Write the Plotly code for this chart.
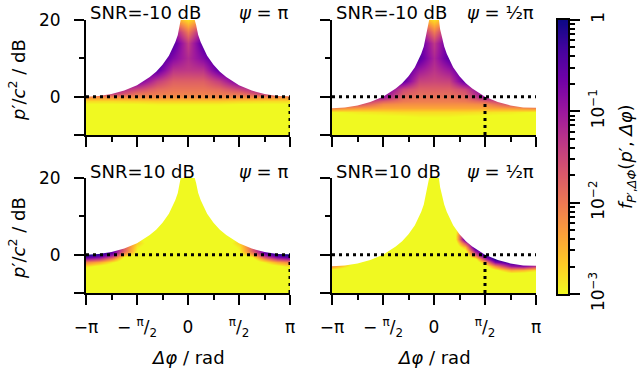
import numpy as np
import plotly.graph_objects as go

# Δφ in units of π, power p'/c² in dB, colour = log10 of the joint density
SNR_TEXT = ["SNR=-10 dB", "SNR=-10 dB", "SNR=10 dB", "SNR=10 dB"]
PSI_TEXT = ["<i>ψ</i> = π", "<i>ψ</i> = ½π", "<i>ψ</i> = π", "<i>ψ</i> = ½π"]
PSI_PI = [1.0, 0.5, 1.0, 0.5]
REF_DB = 0

# upper edge of the support
BOUND_X = [-1, -0.875, -0.75, -0.625, -0.5, -0.4375, -0.375, -0.3125, -0.25, -0.1875,
           -0.15, -0.125, -0.1, -0.08, -0.06, -0.04, 0, 0.04, 0.06, 0.08, 0.1, 0.125,
           0.15, 0.1875, 0.25, 0.3125, 0.375, 0.4375, 0.5, 0.625, 0.75, 0.875, 1]
BOUND_PSI_PI = [0.0, 0.2, 0.7, 1.6, 3.0, 4.0, 5.1, 6.5, 8.3, 10.7, 12.7, 14.2, 16.1, 18.6,
                20.6, 24.0, 30.0, 24.0, 20.6, 18.6, 16.1, 14.2, 12.7, 10.7, 8.3, 6.5, 5.1,
                4.0, 3.0, 1.6, 0.7, 0.2, 0.0]
BOUND_PSI_HALF = [-3.0, -2.8, -2.3, -1.4, 0.0, 1.0, 2.1, 3.5, 5.3, 7.7, 9.6, 11.2, 13.1,
                  15.4, 17.6, 21.0, 30.0, 21.0, 17.6, 15.4, 13.1, 11.2, 9.6, 7.7, 5.3, 3.5,
                  2.1, 1.0, 0.0, -1.4, -2.3, -2.8, -3.0]

# SNR=-10 dB, psi=pi
TL_X = [-1, -0.75, -0.5, -0.3, -0.15, 0, 0.15, 0.3, 0.5, 0.75, 1]
TL_Y = [-10, -4, -2, -1, 0, 1, 2, 4, 7, 10, 14, 17, 20]
TL_Z = [
    [-3.5, -3.5, -3.5, -3.5, -3.5, -3.5, -3.5, -3.5, -3.5, -3.5, -3.5],
    [-3.2, -3.2, -3.2, -3.2, -3.2, -3.2, -3.2, -3.2, -3.2, -3.2, -3.2],
    [-3.0, -3.0, -3.0, -2.95, -2.95, -2.95, -2.95, -2.95, -3.0, -3.0, -3.0],
    [-2.8, -2.8, -2.75, -2.7, -2.7, -2.7, -2.7, -2.7, -2.75, -2.8, -2.8],
    [-2.2, -2.2, -2.2, -2.15, -2.2, -2.2, -2.2, -2.15, -2.2, -2.2, -2.2],
    [-1.5, -1.3, -1.9, -2.0, -2.05, -2.05, -2.05, -2.0, -1.9, -1.3, -1.5],
    [-1.2, -1.0, -1.5, -1.85, -1.95, -1.95, -1.95, -1.85, -1.5, -1.0, -1.2],
    [-1.0, -0.8, -0.6, -1.4, -1.75, -1.75, -1.75, -1.4, -0.6, -0.8, -1.0],
    [-1.0, -0.8, -0.4, -0.5, -1.3, -1.35, -1.3, -0.5, -0.4, -0.8, -1.0],
    [-1.0, -0.8, -0.4, -0.2, -0.8, -1.2, -0.8, -0.2, -0.4, -0.8, -1.0],
    [-1.0, -0.8, -0.4, -0.2, -0.4, -1.4, -0.4, -0.2, -0.4, -0.8, -1.0],
    [-1.0, -0.8, -0.4, -0.3, -0.9, -2.0, -0.9, -0.3, -0.4, -0.8, -1.0],
    [-1.0, -0.8, -0.4, -0.5, -2.2, -2.8, -2.2, -0.5, -0.4, -0.8, -1.0],
]

# SNR=-10 dB, psi=pi/2
TR_X = [-1, -0.75, -0.5, -0.3, -0.15, 0, 0.15, 0.3, 0.5, 0.75, 1]
TR_Y = [-10, -6, -4, -3, -2, -1, 0, 2, 4, 7, 10, 14, 17, 20]
TR_Z = [
    [-3.5, -3.5, -3.5, -3.5, -3.5, -3.5, -3.5, -3.5, -3.5, -3.5, -3.5],
    [-3.2, -3.2, -3.2, -3.2, -3.1, -3.1, -3.1, -3.2, -3.2, -3.2, -3.2],
    [-3.0, -2.9, -2.85, -2.8, -2.8, -2.8, -2.8, -2.8, -2.85, -2.9, -3.0],
    [-2.1, -2.3, -2.4, -2.4, -2.4, -2.4, -2.4, -2.4, -2.4, -2.3, -2.1],
    [-1.8, -1.6, -2.15, -2.2, -2.2, -2.2, -2.2, -2.2, -2.15, -1.6, -1.8],
    [-1.5, -1.2, -1.75, -2.0, -2.05, -2.05, -2.05, -2.0, -1.75, -1.2, -1.5],
    [-1.2, -1.0, -1.0, -1.85, -1.95, -1.95, -1.95, -1.85, -1.0, -1.0, -1.2],
    [-1.0, -0.8, -0.5, -1.5, -1.75, -1.75, -1.75, -1.5, -0.5, -0.8, -1.0],
    [-1.0, -0.8, -0.4, -0.5, -1.45, -1.5, -1.45, -0.5, -0.4, -0.8, -1.0],
    [-1.0, -0.8, -0.4, -0.3, -1.0, -1.3, -1.0, -0.3, -0.4, -0.8, -1.0],
    [-1.0, -0.8, -0.4, -0.3, -0.45, -1.15, -0.45, -0.3, -0.4, -0.8, -1.0],
    [-1.0, -0.8, -0.4, -0.3, -0.4, -1.35, -0.4, -0.3, -0.4, -0.8, -1.0],
    [-1.0, -0.8, -0.4, -0.4, -0.9, -2.0, -0.9, -0.4, -0.4, -0.8, -1.0],
    [-1.0, -0.8, -0.4, -0.5, -2.2, -2.8, -2.2, -0.5, -0.4, -0.8, -1.0],
]

# SNR=10 dB, psi=pi
BL_X = [-1, -0.875, -0.75, -0.625, -0.5, -0.3, 0, 0.3, 0.5, 0.625, 0.75, 0.875, 1]
BL_Y = [-10, -4, -3, -2, -1, -0.5, 0, 0.5, 1, 2, 3, 5, 20]
BL_Z = [
    [-3.5, -3.5, -3.5, -3.5, -3.5, -3.5, -3.5, -3.5, -3.5, -3.5, -3.5, -3.5, -3.5],
    [-3.3, -3.4, -3.5, -3.5, -3.5, -3.5, -3.5, -3.5, -3.5, -3.5, -3.5, -3.4, -3.3],
    [-2.8, -3.1, -3.3, -3.4, -3.5, -3.5, -3.5, -3.5, -3.5, -3.4, -3.3, -3.1, -2.8],
    [-2.1, -2.4, -2.9, -3.3, -3.5, -3.5, -3.5, -3.5, -3.5, -3.3, -2.9, -2.4, -2.1],
    [-1.1, -1.4, -2.2, -3.2, -3.5, -3.5, -3.5, -3.5, -3.5, -3.2, -2.2, -1.4, -1.1],
    [-0.5, -0.8, -1.6, -3.0, -3.4, -3.5, -3.5, -3.5, -3.4, -3.0, -1.6, -0.8, -0.5],
    [-0.1, -0.3, -1.0, -2.5, -3.2, -3.5, -3.5, -3.5, -3.2, -2.5, -1.0, -0.3, -0.1],
    [0.0, -0.1, -0.6, -2.1, -3.1, -3.5, -3.5, -3.5, -3.1, -2.1, -0.6, -0.1, 0.0],
    [0.0, 0.0, -0.5, -1.8, -3.0, -3.5, -3.5, -3.5, -3.0, -1.8, -0.5, 0.0, 0.0],
    [0.0, 0.0, -0.5, -1.7, -2.9, -3.5, -3.5, -3.5, -2.9, -1.7, -0.5, 0.0, 0.0],
    [0.0, 0.0, -0.5, -1.8, -2.7, -3.5, -3.5, -3.5, -2.7, -1.8, -0.5, 0.0, 0.0],
    [0.0, 0.0, -0.5, -2.0, -2.9, -3.5, -3.5, -3.5, -2.9, -2.0, -0.5, 0.0, 0.0],
    [-3.5, -3.5, -3.5, -3.5, -3.5, -3.5, -3.5, -3.5, -3.5, -3.5, -3.5, -3.5, -3.5],
]

# SNR=10 dB, psi=pi/2
BR_X = [-1, -0.75, -0.5, -0.25, 0, 0.2, 0.3, 0.4, 0.5, 0.6, 0.75, 0.875, 1]
BR_Y = [-10, -6, -5, -4, -3, -2, -1, 0, 1, 2, 3, 4, 5, 6, 8, 20]
BR_Z = [
    [-3.5, -3.5, -3.5, -3.5, -3.5, -3.5, -3.5, -3.5, -3.5, -3.5, -3.5, -3.5, -3.5],
    [-3.5, -3.5, -3.5, -3.5, -3.5, -3.5, -3.5, -3.5, -3.5, -3.5, -3.5, -3.5, -3.5],
    [-3.5, -3.5, -3.5, -3.5, -3.5, -3.5, -3.5, -3.5, -3.5, -3.5, -3.2, -3.3, -3.4],
    [-3.2, -3.5, -3.5, -3.5, -3.5, -3.5, -3.5, -3.5, -3.5, -3.1, -2.4, -2.5, -2.8],
    [-2.2, -3.4, -3.5, -3.5, -3.5, -3.5, -3.5, -3.5, -3.2, -2.2, -1.0, -0.8, -1.3],
    [-2.2, -3.0, -3.5, -3.5, -3.5, -3.5, -3.5, -3.4, -2.4, -0.8, -0.2, -0.6, -1.2],
    [-2.2, -3.0, -3.5, -3.5, -3.5, -3.5, -3.5, -3.2, -1.3, -0.1, -0.2, -0.6, -1.2],
    [-2.2, -3.0, -3.4, -3.5, -3.5, -3.5, -3.4, -1.9, -0.1, 0.0, -0.2, -0.6, -1.2],
    [-2.2, -3.0, -3.4, -3.5, -3.5, -3.5, -3.2, -1.0, 0.0, 0.0, -0.2, -0.6, -1.2],
    [-2.2, -3.0, -3.4, -3.5, -3.5, -3.5, -2.6, -0.1, 0.0, 0.0, -0.2, -0.6, -1.2],
    [-2.2, -3.0, -3.4, -3.5, -3.5, -3.5, -1.6, 0.0, 0.0, 0.0, -0.2, -0.6, -1.2],
    [-2.2, -3.0, -3.4, -3.5, -3.5, -3.4, -0.3, 0.0, 0.0, 0.0, -0.2, -0.6, -1.2],
    [-2.2, -3.0, -3.4, -3.5, -3.5, -3.4, -0.3, 0.0, 0.0, 0.0, -0.2, -0.6, -1.2],
    [-2.2, -3.0, -3.4, -3.5, -3.5, -3.4, -0.8, -0.3, 0.0, 0.0, -0.2, -0.6, -1.2],
    [-2.2, -3.0, -3.4, -3.5, -3.5, -3.5, -2.0, -1.5, -0.5, -0.5, -0.5, -0.6, -1.2],
    [-3.5, -3.5, -3.5, -3.5, -3.5, -3.5, -3.5, -3.5, -3.5, -3.5, -3.5, -3.5, -3.5],
]

X_RANGE = [-1, 1]
Y_RANGE = [-10, 20]
X_TICKS = [-1, -0.5, 0, 0.5, 1]
X_TICK_TEXT = ["−π", "− <sup>π</sup>/<sub>2</sub>", "0", "<sup>π</sup>/<sub>2</sub>", "π"]
X_MINOR = [-0.75, -0.25, 0.25, 0.75]
Y_TICKS = [-10, 0, 20]
Y_TICK_TEXT = ["", "0", "20"]
Y_MINOR = [10]
CB_TICKS = [-3, -2, -1, 0]
CB_TICK_TEXT = ["10<sup>−3</sup>", "10<sup>−2</sup>", "10<sup>−1</sup>", "1"]

W, H = 640, 368
FONT = "DejaVu Sans"

# panel boxes in pixels: left, right, top, bottom
BOXES = [(86, 290, 20, 135), (332, 536, 20, 135), (86, 290, 178, 293), (332, 536, 178, 293)]
CB_BOX = (558, 568, 20, 294)

PANELS = [
    (TL_X, TL_Y, TL_Z, BOUND_PSI_PI),
    (TR_X, TR_Y, TR_Z, BOUND_PSI_HALF),
    (BL_X, BL_Y, BL_Z, BOUND_PSI_PI),
    (BR_X, BR_Y, BR_Z, BOUND_PSI_HALF),
]


def xdom(l, r):
    return [l / W, r / W]


def ydom(t, b):
    return [1 - b / H, 1 - t / H]


fig = go.Figure()
layout = dict(
    width=W, height=H, margin=dict(l=0, r=0, t=0, b=0, autoexpand=False),
    paper_bgcolor="white", plot_bgcolor="white", showlegend=False,
    font=dict(family=FONT, size=17, color="black"),
    coloraxis=dict(colorscale="Plasma", reversescale=True, cmin=-3, cmax=0, showscale=False),
)

axis_common = dict(
    showline=True, linecolor="black", linewidth=2, ticks="outside", ticklen=10,
    tickwidth=2, tickcolor="black", showgrid=False, zeroline=False, tickmode="array",
    automargin=False,
)

annotations = []
for i, (px, py, pz, bnd) in enumerate(PANELS):
    n = "" if i == 0 else str(i + 1)
    xa, ya = "x" + n, "y" + n
    fig.add_trace(go.Heatmap(x=px, y=py, z=pz, zsmooth="best", coloraxis="coloraxis",
                             xaxis=xa, yaxis=ya, hoverinfo="skip"))
    # blank out everything above the support edge (padded past the axis ends)
    top = Y_RANGE[1] + 2
    fig.add_trace(go.Scatter(
        x=[X_RANGE[0] - 0.1, X_RANGE[0] - 0.1] + BOUND_X + [X_RANGE[1] + 0.1, X_RANGE[1] + 0.1],
        y=[top, bnd[0]] + bnd + [bnd[-1], top],
        mode="lines", fill="toself", fillcolor="white", line=dict(width=0),
        xaxis=xa, yaxis=ya, hoverinfo="skip"))
    dot = dict(color="black", width=3, dash="3px,4px")
    fig.add_trace(go.Scatter(x=X_RANGE, y=[REF_DB, REF_DB], mode="lines", line=dot,
                             xaxis=xa, yaxis=ya, hoverinfo="skip"))
    fig.add_trace(go.Scatter(x=[PSI_PI[i], PSI_PI[i]], y=[Y_RANGE[0], REF_DB], mode="lines",
                             line=dot, xaxis=xa, yaxis=ya, hoverinfo="skip"))

    l, r, t, b = BOXES[i]
    bottom = i >= 2
    left = i % 2 == 0
    layout["xaxis" + n] = dict(
        axis_common, domain=xdom(l, r), range=X_RANGE, anchor=ya,
        tickvals=X_TICKS, ticktext=X_TICK_TEXT, showticklabels=bottom,
        ticklabelstandoff=8,
        minor=dict(tickmode="array", tickvals=X_MINOR, ticks="outside", ticklen=5,
                   tickwidth=1.5, tickcolor="black"),
    )
    layout["yaxis" + n] = dict(
        axis_common, domain=ydom(t, b), range=Y_RANGE, anchor=xa,
        tickvals=Y_TICKS, ticktext=Y_TICK_TEXT, showticklabels=left,
        ticklabelstandoff=10,
        minor=dict(tickmode="array", tickvals=Y_MINOR, ticks="outside", ticklen=5,
                   tickwidth=1.5, tickcolor="black"),
    )

    annotations.append(dict(text=SNR_TEXT[i], x=(l + 2) / W, y=1 - (t - 7) / H,
                            xref="paper", yref="paper", xanchor="left", yanchor="middle",
                            showarrow=False, font=dict(size=18)))
    annotations.append(dict(text=PSI_TEXT[i], x=r / W, y=1 - (t - 7) / H,
                            xref="paper", yref="paper", xanchor="right", yanchor="middle",
                            showarrow=False, font=dict(size=18)))
    if left:
        annotations.append(dict(text="<i>p</i>′/<i>c</i><sup>2</sup> / dB", x=17 / W,
                                y=1 - (t + 60) / H, xref="paper", yref="paper",
                                xanchor="center", yanchor="middle", textangle=-90,
                                showarrow=False, font=dict(size=18)))
    if bottom:
        annotations.append(dict(text="<i>Δφ</i> / rad", x=(l + r) / 2 / W, y=1 - 357 / H,
                                xref="paper", yref="paper", xanchor="center",
                                yanchor="middle", showarrow=False, font=dict(size=18)))

# colour bar drawn as its own small axis so that it can carry minor ticks
fig.add_trace(go.Heatmap(x=[0, 1], y=[CB_TICKS[0], CB_TICKS[-1]],
                         z=[[CB_TICKS[0], CB_TICKS[0]], [CB_TICKS[-1], CB_TICKS[-1]]],
                         zsmooth="best", coloraxis="coloraxis", xaxis="x5", yaxis="y5",
                         hoverinfo="skip"))
cb_minor = [e + np.log10(k) for e in CB_TICKS[:-1] for k in range(2, 10)]
l, r, t, b = CB_BOX
layout["xaxis5"] = dict(domain=xdom(l, r), range=[0, 1], anchor="y5", showline=True,
                        mirror=True, linecolor="black", linewidth=2, showticklabels=False,
                        ticks="", showgrid=False, zeroline=False, automargin=False)
layout["yaxis5"] = dict(
    axis_common, domain=ydom(t, b), range=[CB_TICKS[0], CB_TICKS[-1]], anchor="x5",
    side="right", mirror=True, tickvals=CB_TICKS, ticktext=CB_TICK_TEXT, tickangle=-90,
    ticklabelstandoff=4,
    minor=dict(tickmode="array", tickvals=cb_minor, ticks="outside", ticklen=5,
               tickwidth=1.5, tickcolor="black"),
)
annotations.append(dict(
    text="<i>f</i><sub><i>P</i>′,<i>ΔΦ</i></sub>(<i>p</i>′, <i>Δφ</i>)",
    x=627 / W, y=1 - 157 / H, xref="paper", yref="paper", xanchor="center",
    yanchor="middle", textangle=-90, showarrow=False, font=dict(size=18)))

layout["annotations"] = annotations
fig.update_layout(**layout)
# the page's default body margin would push the fixed-size figure off the window
fig.write_html("out.html", config={"displayModeBar": False},
               post_script="document.body.style.margin = '0';")
